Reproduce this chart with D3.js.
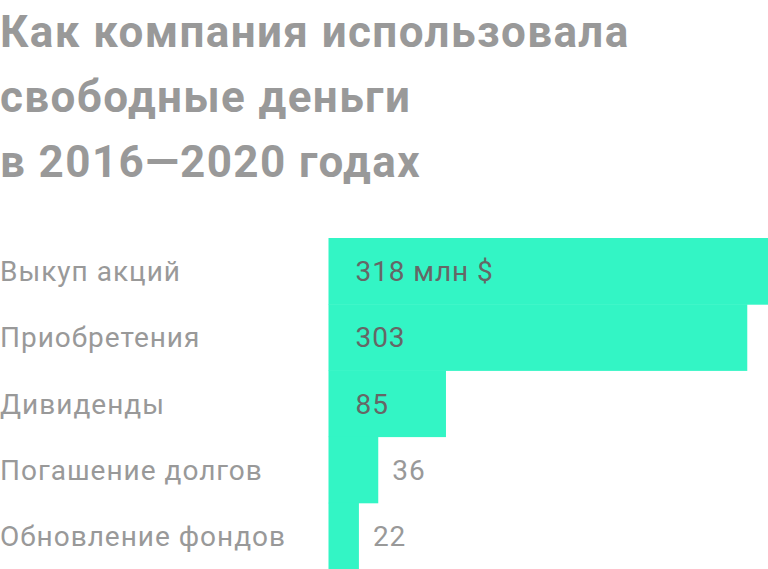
<!DOCTYPE html>
<html>
<head>
<meta charset="utf-8">
<script src="https://cdn.jsdelivr.net/npm/d3@7"></script>
<style>
    html, body { margin: 0; padding: 0; background: #fff; }
    svg { display: block; font-family: Roboto, "Noto Sans", sans-serif; }
</style>
</head>
<body>
<svg id="chart" width="768" height="569"></svg>
<script>

// data
var titleLines = ["Как компания использовала", "свободные деньги", "в 2016—2020 годах"];
var categories = ["Выкуп акций", "Приобретения", "Дивиденды", "Погашение долгов", "Обновление фондов"];
var values = [318, 303, 85, 36, 22];
var unit = " млн $";

var width = 768, height = 569;

var dims = {
    "barLeft": 328.5, "barTop": 238, "insidePad": 27, "outsidePad": 14, "insideMin": 80
};

var svg = d3.select("#chart");

// title
svg.append("g")
    .selectAll("text")
    .data(titleLines)
    .enter()
    .append("text")
    .attr("x", 0)
    .attr("y", function (d, i) {
        return 47 + i * 65;
    })
    .attr("fill", "#999999")
    .attr("font-size", 44)
    .attr("font-weight", 700)
    .attr("letter-spacing", 1.4)
    .text(function (d) { return d; });

var rows = categories.map(function (c, i) {
    return {"cat": c, "value": values[i], "first": i == 0};
});

var x = d3.scaleLinear()
    .domain([0, d3.max(values)])
    .range([dims.barLeft, width]);

var y = d3.scaleBand()
    .domain(categories)
    .range([dims.barTop, height])
    .padding(0);

var g = svg.append("g");

g.selectAll("rect")
    .data(rows)
    .enter()
    .append("rect")
    .attr("x", x(0))
    .attr("y", function (d) { return y(d.cat); })
    .attr("width", function (d) { return x(d.value) - x(0); })
    .attr("height", y.bandwidth() + 0.5)
    .attr("fill", "#33f5c5");

// category labels
g.selectAll("text.cat")
    .data(rows)
    .enter()
    .append("text")
    .attr("class", "cat")
    .attr("x", 0)
    .attr("y", function (d) { return y(d.cat) + y.bandwidth() / 2 + 10; })
    .attr("fill", "#999999")
    .attr("font-size", 28)
    .attr("letter-spacing", 1)
    .text(function (d) { return d.cat; });

// value labels: inside wide bars, right of narrow ones
g.selectAll("text.val")
    .data(rows)
    .enter()
    .append("text")
    .attr("class", "val")
    .attr("x", function (d) {
        var w = x(d.value) - x(0);
        return w > dims.insideMin ? x(0) + dims.insidePad : x(d.value) + dims.outsidePad;
    })
    .attr("y", function (d) { return y(d.cat) + y.bandwidth() / 2 + 10; })
    .attr("fill", function (d) {
        return (x(d.value) - x(0)) > dims.insideMin ? "#666666" : "#999999";
    })
    .attr("font-size", 28)
    .attr("letter-spacing", 0.9)
    .text(function (d) { return d.value + (d.first ? unit : ""); });

</script>
</body>
</html>
